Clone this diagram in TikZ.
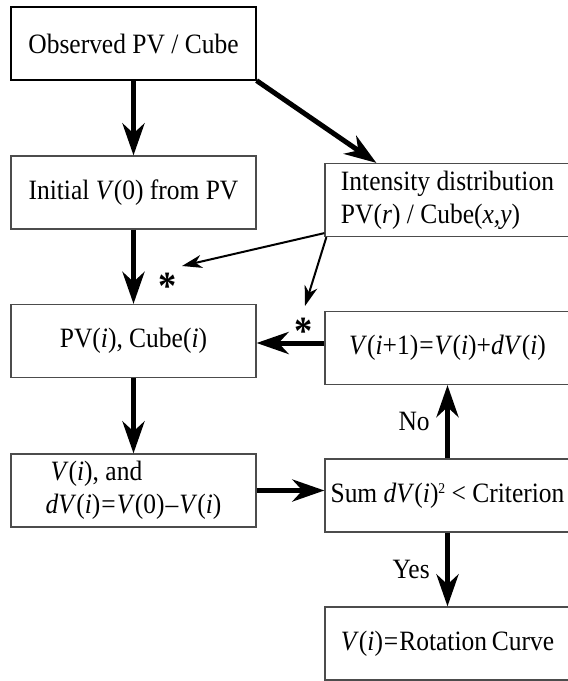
\documentclass[tikz,border=0pt]{standalone}
\usepackage{fontspec}
\setmainfont{Liberation Serif}[FakeStretch=0.91]
\usetikzlibrary{arrows.meta}

\tikzset{
  stepbox/.style={rectangle, draw=black!70, line width=1.2pt, minimum width=245pt,
    minimum height=73pt, inner sep=0pt},
  starmark/.style={font=\fontsize{40}{40}\selectfont\bfseries, inner sep=0pt},
  bigarrow/.style={-{Stealth[length=32pt,width=22pt,inset=10pt]}, line width=5pt},
  thinarrow/.style={-{Stealth[length=20pt,width=13pt,inset=6pt]}, line width=2pt},
}
\newcommand{\smallsup}[1]{\raisebox{9pt}{\fontsize{15}{15}\selectfont #1}}
\newcommand{\eqs}{\kern1pt=\kern1pt}

\begin{document}
\begin{tikzpicture}[x=1pt,y=-1pt,font=\fontsize{28}{33}\selectfont]
\useasboundingbox (0,0) rectangle (568,681);
%% left column
\node[stepbox, draw=black] (obs) at (133.5,43.5) {Observed PV / Cube};
\node[stepbox] (init) at (133.5,192.5) {Initial \textit{V}(0) from PV};
\node[stepbox] (pv) at (133.5,341) {PV(\textit{i}), Cube(\textit{i})};
\node[stepbox] (vi) at (133.5,490.5) [align=left]
  {\hspace{5pt}\textit{V}(\textit{i}), and\\\textit{dV}(\textit{i})\eqs\textit{V}(0)\kern1pt--\kern1pt\textit{V}(\textit{i})};
%% right column
\node[stepbox] (intens) at (447.5,200) [align=left]
  {Intensity distribution\\PV(\textit{r}) / Cube(\textit{x,y})};
\node[stepbox] (upd) at (447.5,348)
  {\textit{V}(\textit{i}+1)\eqs\textit{V}(\textit{i})+\textit{dV}(\textit{i})};
\node[stepbox] (sum) at (447.5,495.5)
  {Sum \textit{dV}(\textit{i})\smallsup{2} < Criterion};
\node[stepbox] (rot) at (447.5,643.5)
  {\textit{V}(\textit{i})\eqs Rotation\,Curve};
%% stars
\node[starmark] (star1) at (168,286) {*};
\node[starmark] (star2) at (304,331) {*};
\coordinate (tip1) at (182,266);
\coordinate (tip2) at (305,306);
%% arrows
\draw[bigarrow] (obs) -- (init);
\draw[bigarrow] (init) -- (pv);
\draw[bigarrow] (pv) -- (vi);
\draw[bigarrow] (obs.south east) -- ([xshift=52pt]intens.north west);
\draw[thinarrow] ([yshift=4pt]intens.south west) -- (tip1);
\draw[thinarrow] ([xshift=2pt]intens.south west) -- (tip2);
\draw[bigarrow] ([yshift=5pt]upd.west) -- ([yshift=5pt]upd.west -| pv.east);
\draw[bigarrow] (vi.east) -- (vi.east -| sum.west);
\draw[bigarrow] (sum) -- (upd) node[midway, left=12pt] {No};
\draw[bigarrow] (sum) -- (rot) node[midway, left=12pt] {Yes};
\end{tikzpicture}
\end{document}
